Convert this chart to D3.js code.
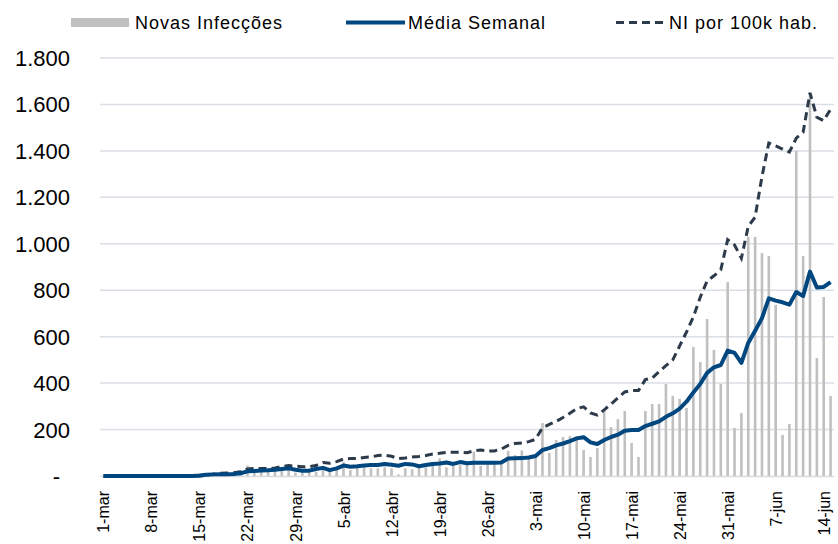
<!DOCTYPE html>
<html lang="pt">
<head>
    <meta charset="UTF-8">
    <title>Novas Infecções</title>
    <script src="https://d3js.org/d3.v7.min.js"></script>
</head>
<style>
    body { margin: 0; background: #fff; }
    text { font-family: "Liberation Sans", Arial, sans-serif; fill: #000; }
    .grid line { stroke: #dadfe5; stroke-width: 1.5px; }
    .legend text { font-size: 18px; letter-spacing: 1px; }
</style>
<body>
<div class="chart"></div>
<script>
    // 1-mar ... 15-jun, one value per day
    var novas = [0,0,0,0,0,0,0,0,0,0,0,0,0,0,1,
        2,3,5,8,10,25,45,15,20,18,22,25,40,15,20,25,18,35,22,30,60,25,35,40,
        33,33,37,33,7,33,29,40,37,43,76,37,43,47,55,105,43,55,52,52,
        108,90,110,75,85,228,100,155,168,172,172,112,82,121,289,211,245,280,142,82,
        280,310,310,396,345,332,293,556,491,676,543,396,835,207,271,1030,1030,960,947,737,
        177,224,1400,947,1650,508,771,345];

    var media = [0,0,0,0,0,0,0,0,0,0,0,0,0,0,2,
        5,7,8,8,9,12,20,22,24,25,27,30,33,27,23,23,30,35,25,33,45,40,42,45,
        47,47,52,48,44,52,50,42,47,52,54,58,52,60,55,57,57,57,57,58,
        75,76,77,80,86,112,120,132,140,150,162,167,145,138,155,168,178,195,198,198,
        215,225,235,255,270,290,320,360,396,444,468,478,540,530,487,573,625,680,765,755,
        748,738,792,775,880,812,814,835];

    var ni100k = [0,0,0,0,0,0,0,0,0,0,0,0,0,0,0,
        3,8,12,13,14,18,30,32,32,32,35,40,45,42,40,40,45,58,55,62,73,75,75,80,
        82,88,90,85,75,78,82,84,88,95,98,102,102,102,100,108,112,108,108,116,
        132,140,142,148,158,208,222,235,252,270,290,298,272,262,285,310,336,362,368,368,
        415,422,450,475,500,560,620,685,770,840,862,888,1018,995,938,1075,1115,1290,1434,1422,
        1408,1395,1455,1480,1650,1545,1530,1580];

    var tickLabels = ["1-mar","8-mar","15-mar","22-mar","29-mar","5-abr","12-abr","19-abr",
        "26-abr","3-mai","10-mai","17-mai","24-mai","31-mai","7-jun","14-jun"];
    var yTicks = [0,200,400,600,800,1000,1200,1400,1600,1800];

    var width = 838, height = 544;
    var svg = d3.select(".chart").append("svg")
        .attr("width", width)
        .attr("height", height);

    var days = d3.range(novas.length);
    var x = d3.scaleBand().domain(days).range([100, 834]);
    var y = d3.scaleLinear().domain([0, 1800]).range([476, 58]);

    var pt = d3.formatLocale({decimal: ",", thousands: ".", grouping: [3], currency: ["", ""]});
    var fmt = function (d) { return d === 0 ? "-" : pt.format(",")(d); };

    // gridlines
    svg.append("g").attr("class", "grid")
        .selectAll("line")
        .data(yTicks.filter(function (d) { return d > 0; }))
        .enter().append("line")
        .attr("x1", 100).attr("x2", 834)
        .attr("y1", function (d) { return y(d); })
        .attr("y2", function (d) { return y(d); });

    // y labels
    svg.append("g")
        .selectAll("text")
        .data(yTicks)
        .enter().append("text")
        .attr("x", function (d) { return d === 0 ? 60 : 70; })
        .attr("y", function (d) { return y(d) + 8; })
        .attr("text-anchor", "end")
        .style("font-size", "22px")
        .text(fmt);

    // bars
    svg.append("g")
        .selectAll("rect")
        .data(novas)
        .enter().append("rect")
        .attr("x", function (d, i) { return x(i) + x.bandwidth() / 2 - 1.3; })
        .attr("width", 2.6)
        .attr("y", function (d) { return y(d); })
        .attr("height", function (d) { return y(0) - y(d); })
        .attr("fill", "#c0c0c0");

    // x baseline
    svg.append("line")
        .attr("x1", 100).attr("x2", 834)
        .attr("y1", y(0) + 0.5).attr("y2", y(0) + 0.5)
        .attr("stroke", "#d6d9dd").attr("stroke-width", 1.5);

    var line = d3.line()
        .x(function (d, i) { return x(i) + x.bandwidth() / 2; })
        .y(function (d) { return y(d); });

    svg.append("path")
        .datum(ni100k)
        .attr("d", line)
        .attr("fill", "none")
        .attr("stroke", "#2c3a4a")
        .attr("stroke-width", 3)
        .attr("stroke-dasharray", "8,5");

    svg.append("path")
        .datum(media)
        .attr("d", line)
        .attr("fill", "none")
        .attr("stroke", "#00467f")
        .attr("stroke-width", 4)
        .attr("stroke-linejoin", "round");

    // x tick labels, rotated
    svg.append("g")
        .selectAll("text")
        .data(tickLabels)
        .enter().append("text")
        .attr("transform", function (d, i) {
            var cx = x(i * 7) + x.bandwidth() / 2;
            return "translate(" + (cx + 6) + ",491) rotate(-90)";
        })
        .attr("text-anchor", "end")
        .style("font-size", "16px")
        .text(function (d) { return d; });

    // legend
    var legend = svg.append("g").attr("class", "legend");
    legend.append("rect")
        .attr("x", 71).attr("y", 18).attr("width", 58).attr("height", 9)
        .attr("fill", "#c0c0c0");
    legend.append("text").attr("x", 135).attr("y", 29).text("Novas Infecções");

    legend.append("line")
        .attr("x1", 346).attr("x2", 405).attr("y1", 22.5).attr("y2", 22.5)
        .attr("stroke", "#00467f").attr("stroke-width", 4);
    legend.append("text").attr("x", 408).attr("y", 29).text("Média Semanal");

    legend.append("line")
        .attr("x1", 616).attr("x2", 665).attr("y1", 22.5).attr("y2", 22.5)
        .attr("stroke", "#2c3a4a").attr("stroke-width", 3)
        .attr("stroke-dasharray", "8,5");
    legend.append("text").attr("x", 669).attr("y", 29).text("NI por 100k hab.");
</script>
</body>
</html>
